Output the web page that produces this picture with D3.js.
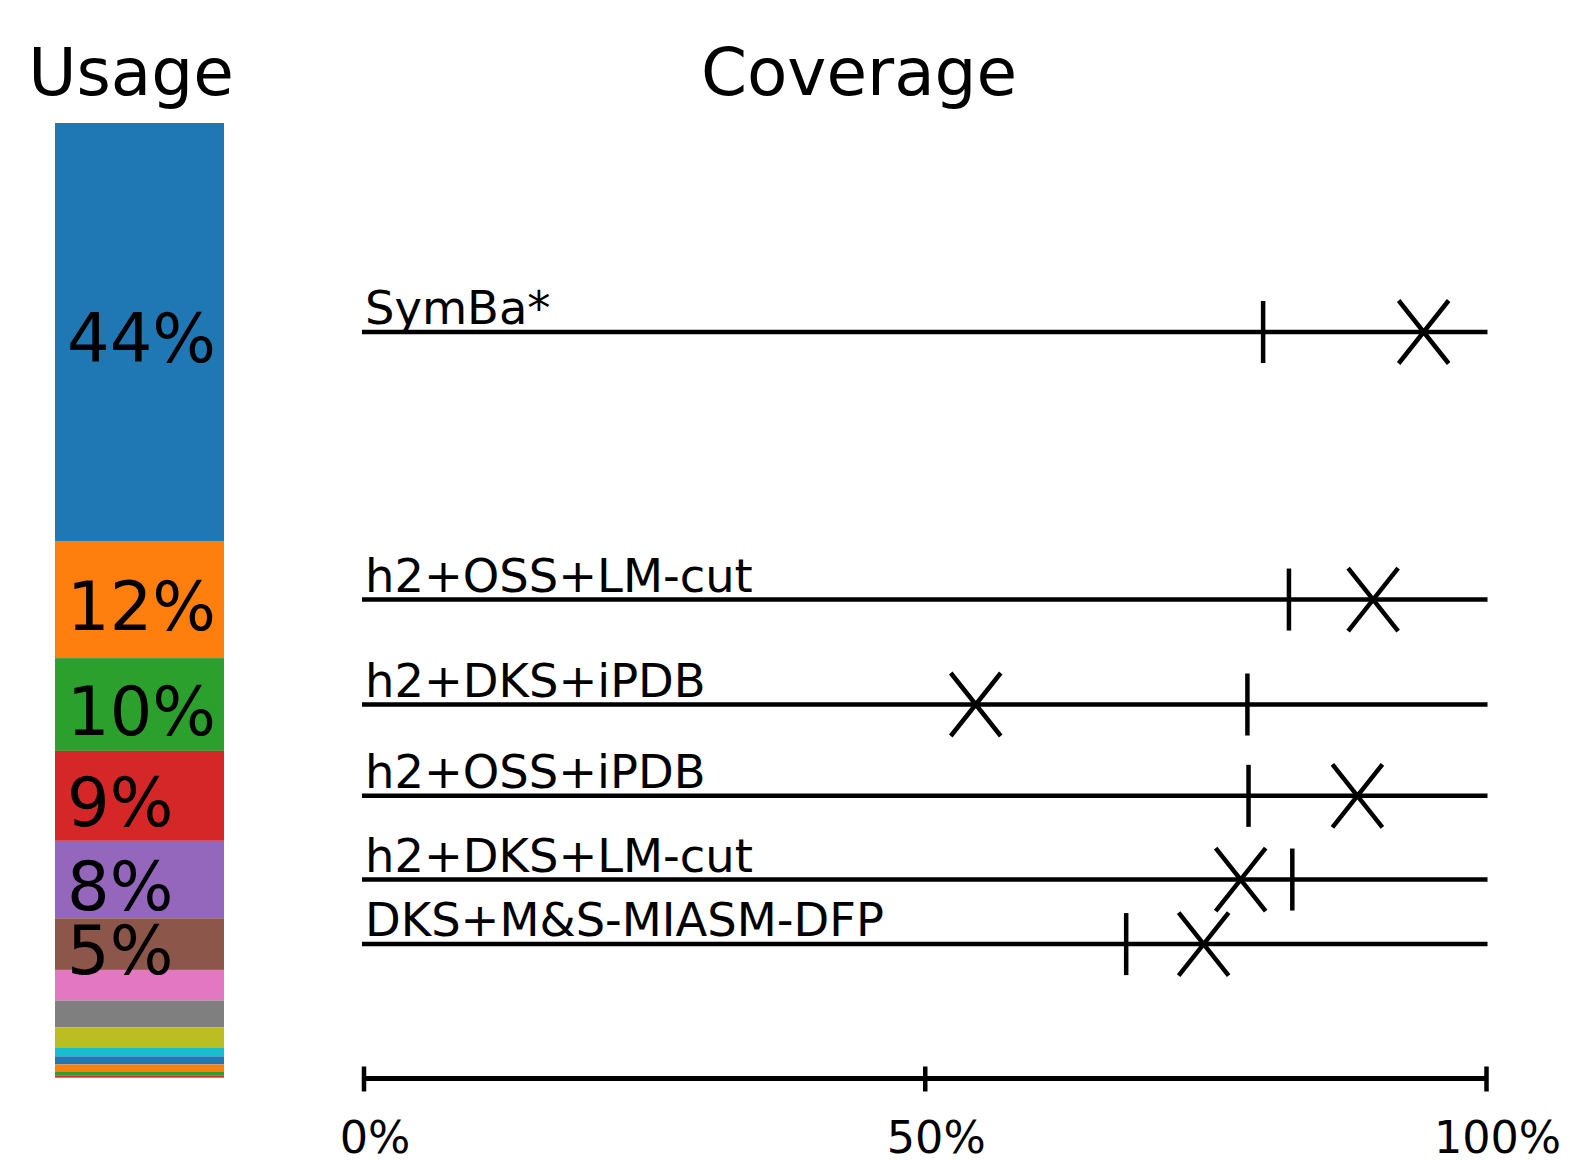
<!DOCTYPE html>
<html><head><meta charset="utf-8">
<script src="https://cdn.jsdelivr.net/npm/d3@7"></script>
<style>body{margin:0;background:#fff}svg{display:block;font-family:"DejaVu Sans",sans-serif}</style>
</head><body><svg id="c" width="1570" height="1160"></svg>
<script>
// Usage shares (%), top to bottom
const usageValues = [43.7, 12.25, 9.7, 9.4, 8.1, 5.4, 3.2, 2.8, 2.1, 0.94, 0.84, 0.73, 0.42, 0.21, 0.06];
const usageColors = ["#1f77b4","#ff7f0e","#2ca02c","#d62728","#9467bd","#8c564b","#e377c2","#7f7f7f","#bcbd22","#17becf","#1f77b4","#ff7f0e","#2ca02c","#d62728","#9467bd"];
// Planners (one per top usage segment)
const planners = ["SymBa*","h2+OSS+LM-cut","h2+DKS+iPDB","h2+OSS+iPDB","h2+DKS+LM-cut","DKS+M&S-MIASM-DFP"];
const tickMarkValues = [80.1, 82.4, 78.7, 78.8, 82.7, 67.9];   // "|" marker
const crossMarkValues = [94.4, 89.9, 54.5, 88.5, 78.1, 74.8];  // "X" marker
const axisTicks = [0, 50, 100];

const svg = d3.select("#c");
const total = d3.sum(usageValues);
const y = d3.scaleLinear().domain([0, total]).range([123, 1078]);
const x = d3.scaleLinear().domain([0, 100]).range([364, 1486.5]);

// cumulative
let acc = 0;
const segs = usageValues.map((v, i) => { const s = {v, i, y0: acc, y1: acc + v}; acc += v; return s; });

// Titles
svg.append("text").attr("x", 131).attr("y", 95).attr("text-anchor", "middle").attr("font-size", 66).text("Usage");
svg.append("text").attr("x", 859).attr("y", 95).attr("text-anchor", "middle").attr("font-size", 66).text("Coverage");

// Usage bar
svg.append("g").selectAll("rect").data(segs).join("rect")
  .attr("x", 55).attr("width", 169)
  .attr("y", d => y(d.y0)).attr("height", d => y(d.y1) - y(d.y0))
  .attr("fill", d => usageColors[d.i]);

svg.append("g").selectAll("text").data(segs.filter(d => d.v >= 5)).join("text")
  .attr("x", 67).attr("y", d => y((d.y0 + d.y1) / 2) + 30)
  .attr("font-size", 67).attr("fill", "#000")
  .text(d => Math.round(d.v) + "%");

// Coverage rows
const rows = planners.map((name, i) => ({name, cy: y((segs[i].y0 + segs[i].y1) / 2), t: tickMarkValues[i], c: crossMarkValues[i]}));
const g = svg.append("g");
rows.forEach(r => {
  g.append("line").attr("x1", x(0) - 2).attr("x2", x(100) + 1).attr("y1", r.cy).attr("y2", r.cy)
    .attr("stroke", "#000").attr("stroke-width", 4.5);
  g.append("text").attr("x", x(0) + 1).attr("y", r.cy - 8).attr("font-size", 46.4).text(r.name);
  g.append("line").attr("x1", x(r.t)).attr("x2", x(r.t)).attr("y1", r.cy - 31).attr("y2", r.cy + 31)
    .attr("stroke", "#000").attr("stroke-width", 4.5);
  const cx = x(r.c);
  g.append("path").attr("d", `M${cx-25},${r.cy-31.5}L${cx+25},${r.cy+31.5}M${cx-25},${r.cy+31.5}L${cx+25},${r.cy-31.5}`)
    .attr("stroke", "#000").attr("stroke-width", 4.5).attr("fill", "none");
});

// Axis
const axisG = svg.append("g").attr("transform", "translate(0,1078.5)");
axisG.append("line").attr("x1", x(0)).attr("x2", x(100)).attr("stroke", "#000").attr("stroke-width", 5);
axisG.selectAll(".tk").data(axisTicks).join("line").attr("class", "tk")
  .attr("x1", d => x(d)).attr("x2", d => x(d)).attr("y1", -12).attr("y2", 13)
  .attr("stroke", "#000").attr("stroke-width", 4.5);
axisG.selectAll(".tl").data(axisTicks).join("text").attr("class", "tl")
  .attr("x", d => x(d) + 11).attr("y", 74).attr("text-anchor", "middle").attr("font-size", 44.5)
  .text(d => d + "%");
</script></body></html>
